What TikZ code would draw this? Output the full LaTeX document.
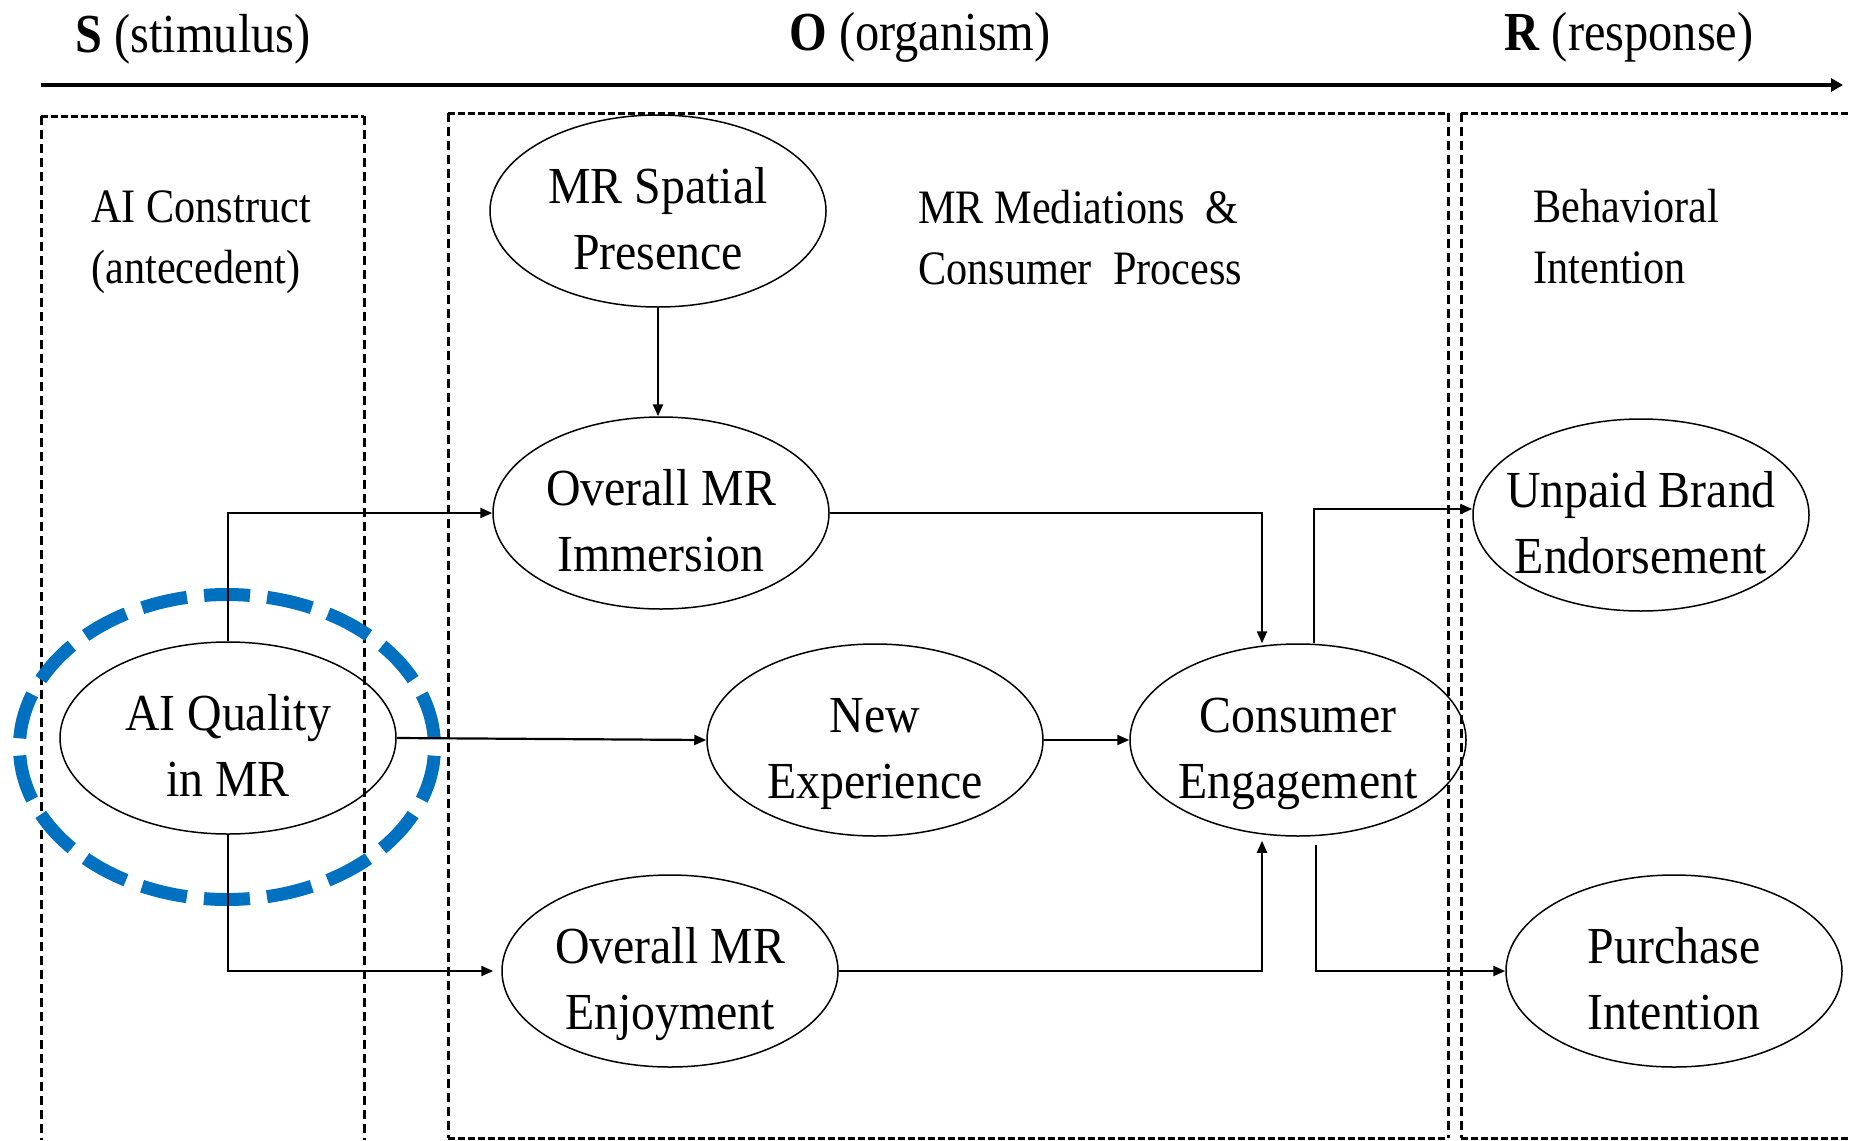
\documentclass[tikz,border=0pt]{standalone}
\usepackage{fontspec}
\setmainfont{Liberation Serif}[FakeStretch=0.88]
\newfontfamily\constructfont{Liberation Serif}[FakeStretch=0.92]
\usepackage{tikz}
\usetikzlibrary{arrows.meta,shapes.geometric,positioning}

\definecolor{aiblue}{HTML}{0070C0}

\tikzset{
  construct/.style={ellipse, draw, line width=0.75pt, minimum width=168pt, minimum height=96pt,
    inner xsep=-10pt, inner ysep=-2pt, align=center, text height=64pt, text depth=6pt,
    font=\constructfont\fontsize{26}{33}\selectfont},
  focusring/.style={ellipse, draw=aiblue, line width=6.5pt, minimum width=207.5pt, minimum height=152.5pt,
    dash pattern=on 23pt off 8.6pt, dash phase=27.3pt},
  edgeh/.style={line width=1.5pt, dash pattern=on 3.6pt off 1.4pt},
  edgev/.style={line width=1.5pt, dash pattern=on 4.6pt off 2.4pt},
  conn/.style={line width=1.1pt, -{Triangle[length=6pt,width=5pt]}},
  boxlabel/.style={anchor=base west, align=left, inner sep=0pt, font=\fontsize{24}{30.5}\selectfont},
  header/.style={anchor=base west, inner sep=0pt, font=\fontsize{27.5}{30}\selectfont},
}

\begin{document}
\begin{tikzpicture}[x=50pt,y=-50pt]
\useasboundingbox (0,0) rectangle (18.51,11.40);
% S-O-R header and axis
\node[header] (hs) at (0.75,0.52) {\textbf{S} (stimulus)};
\node[header] (ho) at (7.89,0.50) {\textbf{O} (organism)};
\node[header] (hr) at (15.04,0.50) {\textbf{R} (response)};
\coordinate (axl) at (0.41,0.85);
\coordinate (axr) at (18.43,0.85);
\draw[line width=2pt, -{Triangle[length=6pt,width=6.5pt]}] (axl) -- (axr);
% dashed stage boxes
\draw[edgeh] (0.41,1.16) -- (3.64,1.16);
\draw[edgev] (0.41,1.16) -- (0.41,11.40) (3.64,1.16) -- (3.64,11.40);
\draw[edgeh] (4.48,1.13) -- (14.48,1.13) (4.48,11.38) -- (14.48,11.38);
\draw[edgev] (4.48,1.13) -- (4.48,11.38) (14.48,1.13) -- (14.48,11.38);
\draw[edgeh] (14.61,1.13) -- (18.51,1.13) (14.61,11.38) -- (18.51,11.38);
\draw[edgev] (14.61,1.13) -- (14.61,11.38);
\node[boxlabel] (lbs) at (0.91,2.83) {AI Construct\\(antecedent)};
\node[boxlabel] (lbo) at (9.18,2.84) {MR Mediations~~\&\\Consumer~~Process};
\node[boxlabel] (lbr) at (15.33,2.83) {Behavioral\\Intention};
% constructs
\node[focusring] (focus) at (2.27,7.47) {};
\node[construct] (aiq) at (2.28,7.38) {AI Quality\\in MR};
\node[construct] (msp) at (6.58,2.11) {MR Spatial\\Presence};
\node[construct] (imm) at (6.61,5.13) {Overall MR\\Immersion};
\node[construct] (ne) at (8.75,7.40) {New\\Experience};
\node[construct] (enj) at (6.70,9.71) {Overall MR\\Enjoyment};
\node[construct] (ce) at (12.98,7.40) {Consumer\\Engagement};
\node[construct] (ube) at (16.41,5.15) {Unpaid Brand\\Endorsement};
\node[construct] (pi) at (16.74,9.71) {Purchase\\Intention};
% paths
\draw[conn] (msp.south) -- (msp.south |- imm.north);
\draw[conn] (aiq.north) |- (imm.west);
\draw[conn] (aiq.east) -- (ne.west);
\draw[conn, shorten >=4pt] (aiq.south) |- (enj.west);
\draw[conn] (imm.east) -| ([xshift=-18pt]ce.north);
\draw[conn] (ne.east) -- (ce.west);
\draw[conn, shorten >=2pt] (enj.east) -| ([xshift=-18pt]ce.south);
\draw[conn] ([xshift=8pt]ce.north) |- ([yshift=3pt]ube.west);
\draw[conn] ([xshift=9pt,yshift=-4pt]ce.south) |- (pi.west);
\end{tikzpicture}
\end{document}
